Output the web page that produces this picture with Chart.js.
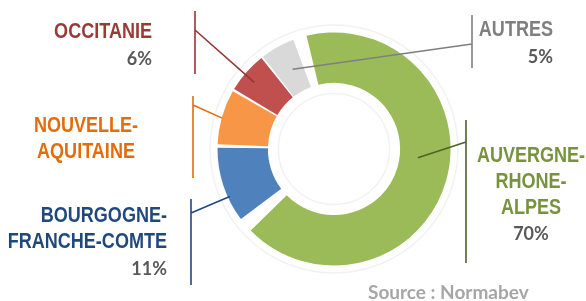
<!DOCTYPE html>
<html>
<head>
<meta charset="utf-8">
<script src="https://cdn.jsdelivr.net/npm/chart.js@4/dist/chart.umd.min.js"></script>
<style>
  html, body { margin: 0; padding: 0; background: #fff; }
  #wrap { width: 586px; height: 301px; position: relative; }
</style>
</head>
<body>
<div id="wrap"><canvas id="donutChart"></canvas></div>
<script>
// DATA ########################################################################

var regions = ["AUVERGNE-RHONE-ALPES", "BOURGOGNE-FRANCHE-COMTE", "NOUVELLE-AQUITAINE", "OCCITANIE", "AUTRES"];
var shares = [70, 11, 8, 6, 5];
var shareLabels = ["70%", "11%", "", "6%", "5%"];
var sliceColors = ["#9BBB59", "#4F81BD", "#F79646", "#C0504D", "#D9D9D9"];
var textColors = ["#77933C", "#1F497D", "#E46C0A", "#9A3A37", "#7F7F7F"];
var lineColors = ["#4F6228", "#1F497D", "#E46C0A", "#953735", "#7F7F7F"];

// label layout: text lines, alignment, anchor inside the slice (fraction of angle / ring)
var labelLayout = [
    { lines: ["AUVERGNE-", "RHONE-", "ALPES"], align: "center", x: 531, y: 162, barX: 466, barTop: 120, barBottom: 263, elbowY: 142, fa: 0.46, fr: 0.45 },
    { lines: ["BOURGOGNE-", "FRANCHE-COMTE"], align: "right", x: 167, y: 222, barX: 191, barTop: 199, barBottom: 285, elbowY: 213, fa: 0.34, fr: 1.05 },
    { lines: ["NOUVELLE-", "AQUITAINE"], align: "center", x: 86, y: 132, barX: 193, barTop: 96, barBottom: 178, elbowY: 105, fa: 0.48, fr: 1.08 },
    { lines: ["OCCITANIE"], align: "right", x: 152, y: 38, barX: 195, barTop: 11, barBottom: 74, elbowY: 30, fa: 0.44, fr: 0.84 },
    { lines: ["AUTRES"], align: "right", x: 553, y: 36, barX: 472, barTop: 15, barBottom: 68, elbowY: 44, fa: 0.59, fr: 0.56 }
];

// condensed bold look: Liberation Sans squeezed horizontally
var labelFont = 'bold 22px "Liberation Sans", Arial, sans-serif';
var narrow = 0.82;
var pctFont = 'bold 18px Lato, "Open Sans", sans-serif';


// LABELS PLUGIN ###############################################################

function narrowText(ctx, txt, x, y, align) {
    ctx.save();
    ctx.translate(x, y);
    ctx.scale(narrow, 1);
    ctx.textAlign = align;
    ctx.fillText(txt, 0, 0);
    ctx.restore();
}

var calloutPlugin = {
    id: "callouts",
    beforeDatasetsDraw: function (chart) {
        var ctx = chart.ctx;
        var arc = chart.getDatasetMeta(0).data[0];
        // faint halo rings round the donut
        ctx.save();
        ctx.strokeStyle = "#F2F2F2";
        ctx.lineWidth = 1.5;
        ctx.beginPath();
        ctx.arc(arc.x, arc.y, arc.outerRadius + 12, 0, Math.PI * 2);
        ctx.stroke();
        ctx.beginPath();
        ctx.arc(arc.x, arc.y, arc.innerRadius - 6, 0, Math.PI * 2);
        ctx.stroke();
        ctx.restore();
    },
    afterDraw: function (chart) {
        var ctx = chart.ctx;
        var arcs = chart.getDatasetMeta(0).data;
        ctx.save();
        for (var i = 0; i < arcs.length; i++) {
            var a = arcs[i];
            var L = labelLayout[i];
            var ang = a.startAngle + (a.endAngle - a.startAngle) * L.fa;
            var r = a.innerRadius + (a.outerRadius - a.innerRadius) * L.fr;
            var px = a.x + Math.cos(ang) * r;
            var py = a.y + Math.sin(ang) * r;

            ctx.strokeStyle = lineColors[i];
            ctx.lineWidth = 1.6;
            ctx.beginPath();
            ctx.moveTo(L.barX, L.barTop);
            ctx.lineTo(L.barX, L.barBottom);
            ctx.moveTo(L.barX, L.elbowY);
            ctx.lineTo(px, py);
            ctx.stroke();

            ctx.textBaseline = "alphabetic";
            ctx.font = labelFont;
            ctx.fillStyle = textColors[i];
            for (var k = 0; k < L.lines.length; k++) {
                narrowText(ctx, L.lines[k], L.x, L.y + k * 26, L.align);
            }
            if (shareLabels[i]) {
                ctx.font = pctFont;
                ctx.fillStyle = "#595959";
                ctx.textAlign = L.align;
                ctx.fillText(shareLabels[i], L.x, L.y + (L.lines.length - 1) * 26 + (i === 0 ? 26 : 27));
            }
        }
        ctx.font = 'bold 19px Lato, "Open Sans", sans-serif';
        ctx.fillStyle = "#A6A6A6";
        ctx.textAlign = "left";
        ctx.fillText("Source : Normabev", 368, 299);
        ctx.restore();
    }
};


// DONUT CHART #################################################################

var ctx_donut = document.getElementById("donutChart");
var myDonutChart = new Chart(ctx_donut, {
    type: "doughnut",
    data: {
        labels: regions,
        datasets: [{
            data: shares,
            backgroundColor: sliceColors,
            borderWidth: 0,
            spacing: 9
        }]
    },
    options: {
        responsive: true,
        maintainAspectRatio: false,
        animation: false,
        rotation: -20,
        radius: 112,
        cutout: "55%",
        layout: { padding: { left: 82, right: 0, top: 0, bottom: 3 } },
        plugins: {
            legend: { display: false },
            tooltip: { enabled: false }
        },
        events: []
    },
    plugins: [calloutPlugin]
});
</script>
</body>
</html>
